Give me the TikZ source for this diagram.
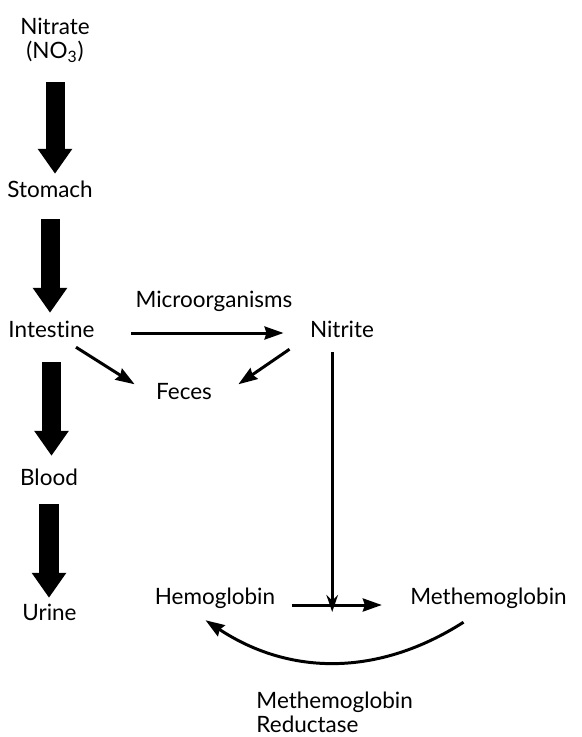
\documentclass[tikz,border=0pt]{standalone}
\usepackage{fontspec}
\setmainfont{Lato}[Ligatures=NoCommon]
\usetikzlibrary{arrows.meta, calc}

\begin{document}
\begin{tikzpicture}[>={Stealth[length=3.8mm,width=2.6mm,inset=0.4mm]}, line width=1.7pt,
  lbl/.style={inner sep=0pt, font=\fontsize{12.8}{13.8}\selectfont},
  word/.style={lbl, text height=0.8em, text depth=0.25em},
  fat/.style={line width=3.8mm, -{Triangle[length=5mm,width=6.6mm]}}]
  \useasboundingbox (0,0) rectangle (11.62,-14.74);

  % Left column: path of nitrate through the body
  \node[lbl, align=center] (nitrate) at (1.1,-0.81) {Nitrate\\(NO\textsubscript{3})};
  \node[word] (stomach) at (1.0,-3.86) {Stomach};
  \node[word] (intestine) at (1.03,-6.66) {Intestine};
  \node[word] (blood) at (0.98,-9.62) {Blood};
  \node[word] (urine) at (0.99,-12.32) {Urine};

  % Right part
  \node[word] (micro) at (4.28,-6.06) {Microorganisms};
  \node[word] (nitrite) at (6.84,-6.66) {Nitrite};
  \node[word] (feces) at (3.68,-7.9) {Feces};
  \node[word] (hemo) at (4.3,-12.0) {Hemoglobin};
  \node[word] (methemo) at (9.77,-12.0) {Methemoglobin};
  \node[lbl, align=left, anchor=north west] (reductase) at (5.1,-13.8)
    {Methemoglobin\\Reductase};

  % Heavy arrows down the left
  \draw[fat, shorten <=3.6mm, shorten >=1.7mm] (nitrate.south) -- (nitrate.south |- stomach.north);
  \draw[fat, shorten <=3.1mm, shorten >=1.9mm] (stomach.south) -- (stomach.south |- intestine.north);
  \draw[fat, shorten <=3.7mm, shorten >=2.9mm] (intestine.south) -- (intestine.south |- blood.north);
  \draw[fat, shorten <=2.5mm, shorten >=1.5mm] (blood.south) -- (blood.south |- urine.north);

  % Thin arrows
  \draw[->, shorten <=7mm, shorten >=5mm] (intestine.east) -- (nitrite.west);
  \draw[->] ([xshift=-4mm,yshift=-0.7mm]intestine.south east) -- ([xshift=-4mm]feces.north west);
  \draw[->] ([xshift=-3.8mm,yshift=-1.1mm]nitrite.south west) -- ([xshift=5mm]feces.north east);
  \draw[->] ([xshift=3mm,yshift=-1mm]hemo.east) -- coordinate[pos=0.45] (meet)
    ([xshift=-5.4mm,yshift=-1mm]methemo.west);
  \draw[-{Stealth[length=3.4mm,width=2.3mm]}, shorten <=1.7mm, shorten >=-1.4mm]
    (nitrite.south -| meet) -- (meet);
  \draw[->] ([xshift=-5mm,yshift=-2.3mm]methemo.south) to[bend left=33]
    ([xshift=-1.9mm,yshift=-1.9mm]hemo.south);
\end{tikzpicture}
\end{document}
